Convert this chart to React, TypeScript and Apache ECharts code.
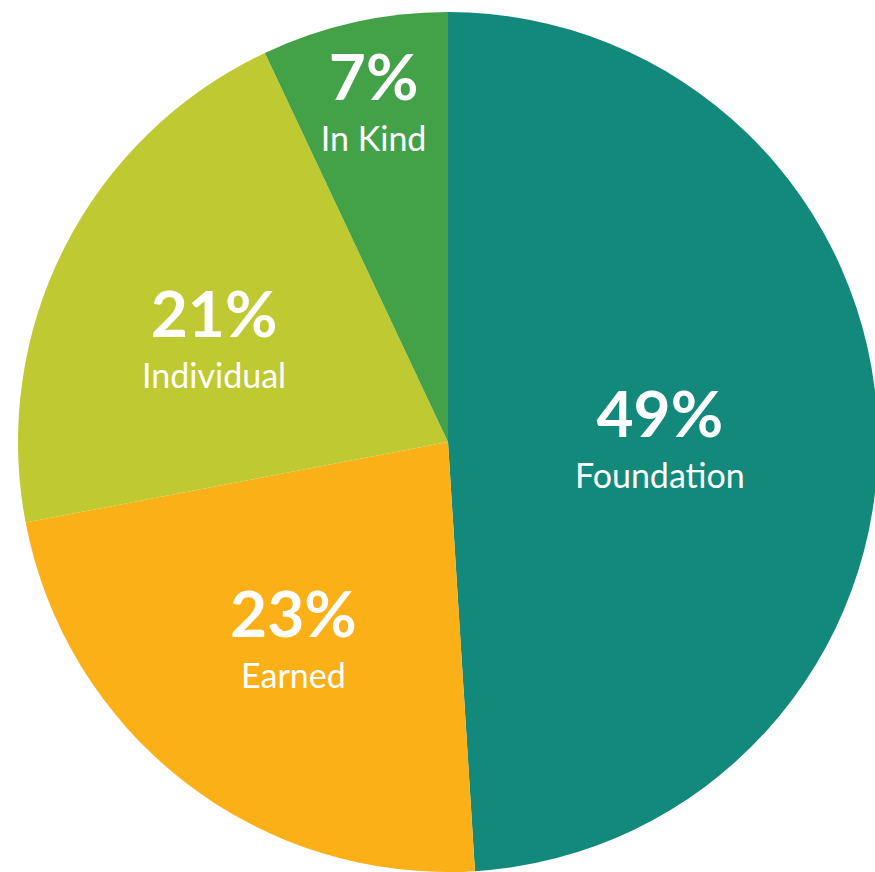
import React, { useEffect, useRef } from "react";
import * as echarts from "echarts";

const categories = ["Foundation", "Earned", "Individual", "In Kind"];
const values = [49, 23, 21, 7];
const colors = ["#12897A", "#FBB017", "#BFC932", "#43A148"];

// layout: label distance from centre as a fraction of the radius, plus a small nudge (px)
const LABEL_RADIUS = [0.493, 0.586, 0.597, 0.793];
const LABEL_NUDGE = [
  [-3, 7],
  [2, 0],
  [-2, 20],
  [1, 5],
];
const CENTER = [448, 442];
const RADIUS = 430;

export default function App() {
  const ref = useRef<HTMLDivElement>(null);
  useEffect(() => {
    if (!ref.current) return;
    const chart = echarts.init(ref.current, undefined, { renderer: "svg" });
    chart.setOption({
      animation: false,
      backgroundColor: "#ffffff",
      series: [
        {
          type: "pie",
          center: CENTER,
          radius: RADIUS,
          startAngle: 90,
          clockwise: true,
          avoidLabelOverlap: false,
          itemStyle: { borderWidth: 0 },
          emphasis: { disabled: true },
          label: {
            show: true,
            position: "inside",
            formatter: "{p|{c}%}\n{n|{b}}",
            color: "#ffffff",
            rich: {
              p: {
                fontFamily: "Lato",
                fontWeight: "bold",
                fontSize: 64,
                lineHeight: 64,
                color: "#ffffff",
                align: "center",
              },
              n: {
                fontFamily: "Lato",
                fontSize: 34,
                lineHeight: 60,
                color: "#ffffff",
                align: "center",
              },
            },
          },
          labelLine: { show: false },
          labelLayout: (params: any) => {
            const r = params.labelRect;
            const cx = r.x + r.width / 2;
            const cy = r.y + r.height / 2;
            const i = params.dataIndex;
            const k = LABEL_RADIUS[i] / 0.5 - 1;
            return {
              dx: (cx - CENTER[0]) * k + LABEL_NUDGE[i][0],
              dy: (cy - CENTER[1]) * k + LABEL_NUDGE[i][1],
            };
          },
          data: categories.map((name, i) => ({
            name,
            value: values[i],
            itemStyle: { color: colors[i] },
          })),
        },
      ],
    });
    return () => chart.dispose();
  }, []);
  return (
    <div
      ref={ref}
      style={{ position: "fixed", left: 0, top: 0, width: 875, height: 872 }}
    />
  );
}
